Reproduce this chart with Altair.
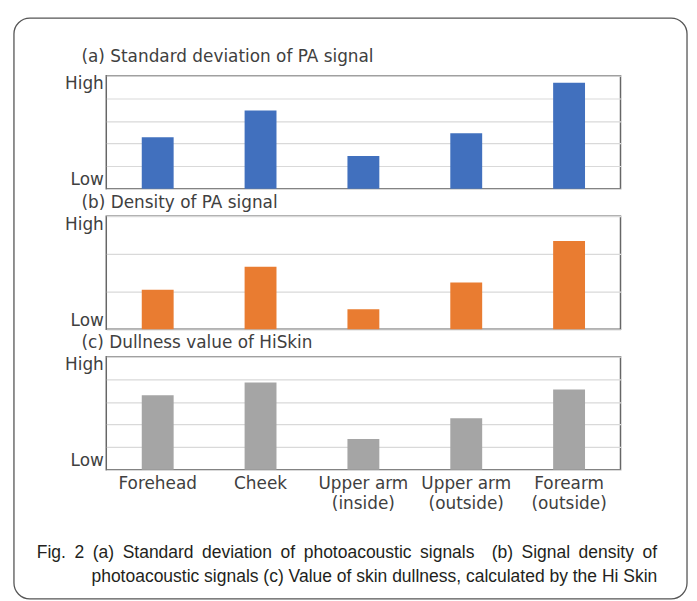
import altair as alt
import pandas as pd

# ---- data ----
sites = ["Forehead", "Cheek", "Upper arm\n(inside)", "Upper arm\n(outside)", "Forearm\n(outside)"]
std_dev = [2.28, 3.46, 1.45, 2.46, 4.69]      # scale 0..5 (Low..High)
density = [1.05, 1.66, 0.53, 1.24, 2.34]      # scale 0..3 (Low..High)
dullness = [3.29, 3.86, 1.36, 2.28, 3.55]     # scale 0..5 (Low..High)

titles = ["(a) Standard deviation of PA signal",
          "(b) Density of PA signal",
          "(c) Dullness value of HiSkin"]
colors = ["#4170BE", "#E97C31", "#A5A5A5"]
y_max = [5, 3, 5]
low_label, high_label = "Low", "High"
# justified first caption line, one entry per word (left edge, px from the plot's left)
caption_words = ["Fig.", "2", "(a)", "Standard", "deviation", "of", "photoacoustic",
                 "signals", "(b)", "Signal", "density", "of"]
caption_word_x = [-70, -32.1, -13.6, 16.5, 96.5, 175.6, 198.9, 316.1, 388.2, 418.3, 475.8, 540.2]
caption_line2 = "photoacoustic signals  (c) Value of skin dullness, calculated by the Hi Skin"

FONT = "DejaVu Sans"
FS = 17
TXT = "#404040"
W, H = 518, 114
SP = 27.5


def panel(values, color, ymax, show_x):
    df = pd.DataFrame({"site": sites, "value": values})
    if show_x:
        x_axis = alt.Axis(labelExpr="split(datum.label, '\\n')", labelAngle=0,
                          ticks=False, domain=False, title=None,
                          labelFont=FONT, labelFontSize=FS, labelColor=TXT,
                          labelPadding=6, labelLineHeight=20)
    else:
        x_axis = None
    return alt.Chart(df).mark_bar(color=color).encode(
        x=alt.X("site:N", sort=sites, axis=x_axis,
                scale=alt.Scale(paddingInner=0.69, paddingOuter=0.345)),
        y=alt.Y("value:Q",
                scale=alt.Scale(domain=[0, ymax], nice=False, zero=True),
                axis=alt.Axis(values=list(range(ymax + 1)),
                              labelExpr=f"datum.value == 0 ? '{low_label}' : datum.value == {ymax} ? '{high_label}' : ''",
                              labelFlush=True, ticks=False, domain=False,
                              grid=True, gridColor="#D9D9D9", gridWidth=1.2,
                              title=None, labelFont=FONT, labelFontSize=FS,
                              labelColor=TXT, labelPadding=3)),
    )


def titled(ch, t, off):
    return ch.properties(width=W, height=H, title=alt.TitleParams(
        t, anchor="start", frame="group", dx=-25, offset=off, font=FONT, fontSize=FS,
        fontWeight="normal", color=TXT))


pa = titled(panel(std_dev, colors[0], y_max[0], False), titles[0], 9)
pb = titled(panel(density, colors[1], y_max[1], False), titles[1], 3)
pc = titled(panel(dullness, colors[2], y_max[2], True), titles[2], 4)

# caption + rounded frame, placed in a last (empty-view) block
cap_style = dict(baseline="middle", font="Liberation Sans", fontSize=17.6, color="#231F20")
words_df = pd.DataFrame({"w": caption_words, "px": caption_word_x})
words = alt.Chart(words_df).mark_text(align="left", **cap_style).encode(
    text="w:N", x=alt.X("px:Q", scale=None), y=alt.value(56.5))

line2_df = pd.DataFrame({"line": [caption_line2]})
line2 = alt.Chart(line2_df).mark_text(align="right", **cap_style).encode(
    text="line:N", x=alt.value(555), y=alt.value(80.5))

border = alt.Chart(pd.DataFrame({"k": [0]})).mark_rect(
    fillOpacity=0, stroke="#555555", strokeWidth=1.3, cornerRadius=16
).encode(x=alt.value(-93), x2=alt.value(585), y=alt.value(-482.5), y2=alt.value(102.5))

pd_block = alt.layer(words, line2, border).properties(
    width=W, height=10, view=alt.ViewBackground(stroke="transparent"))

chart = alt.vconcat(pa, pb, pc, pd_block, spacing=SP, bounds="flush").resolve_scale(
    y="independent", x="independent"
).properties(
    padding={"left": 4, "top": 6, "right": 0, "bottom": 0}
).configure_view(stroke="#666666", strokeWidth=1.5)

chart.save("out.html", embed_options={"renderer": "svg", "actions": False})
